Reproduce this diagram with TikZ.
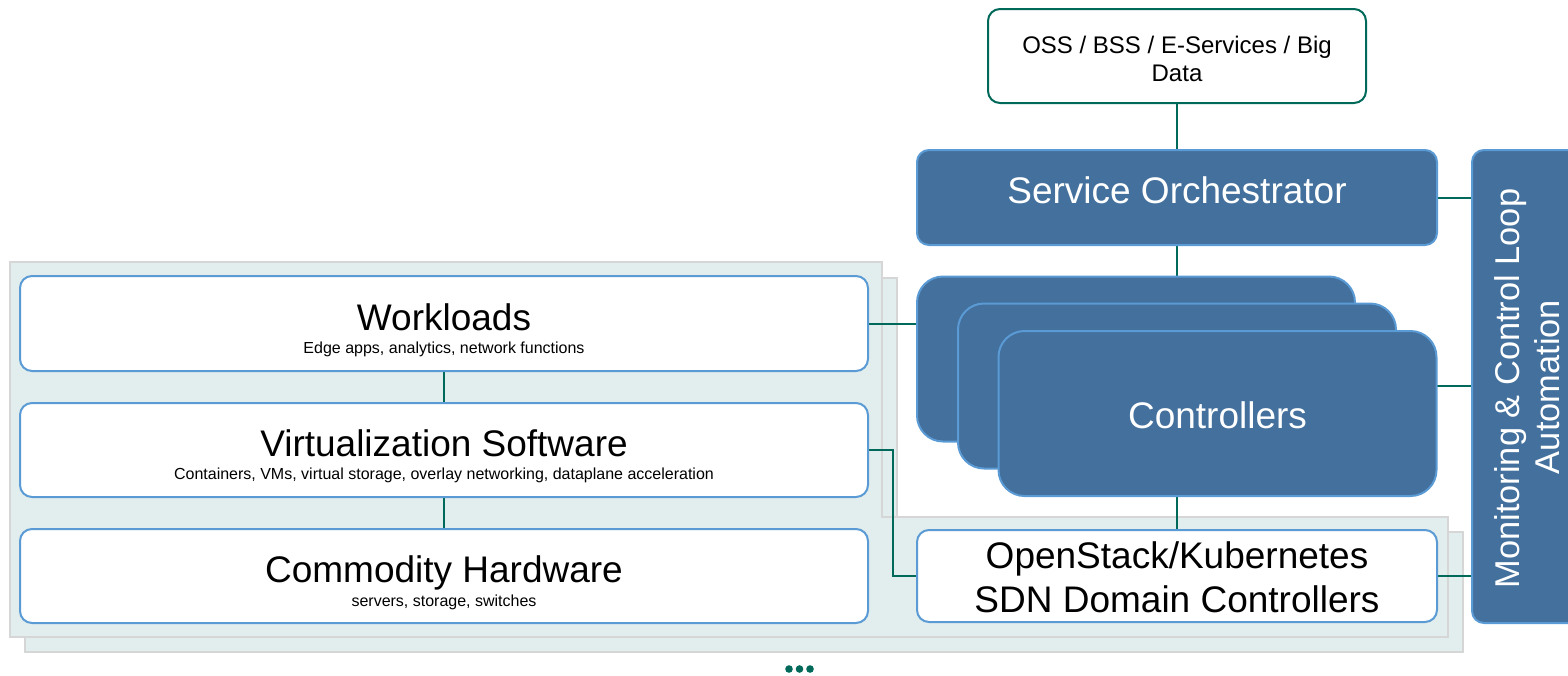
\documentclass[tikz,border=0pt]{standalone}
\usepackage{fontspec}
\setmainfont{Liberation Sans}
\pgfdeclarelayer{panels}
\pgfdeclarelayer{links}
\pgfsetlayers{panels,links,main}

\definecolor{panelfill}{HTML}{E2EEED}
\definecolor{panelline}{HTML}{D6D6D6}
\definecolor{boxline}{HTML}{5B9BD5}
\definecolor{steel}{HTML}{43709D}
\definecolor{linkgreen}{HTML}{00695A}

\begin{document}
\begin{tikzpicture}[x=0.5pt,y=-0.5pt,
  layerbox/.style={draw=boxline, fill=white, line width=1pt, rounded corners=6pt, inner sep=0pt},
  darkbox/.style={draw=boxline, fill=steel, line width=1pt, rounded corners=6pt, inner sep=0pt},
  ctlbox/.style={darkbox, rounded corners=13pt, minimum width=219pt, minimum height=82.5pt},
  link/.style={draw=linkgreen, line width=1pt},
  panel/.style={fill=panelfill, draw=panelline, line width=1pt},
  title/.style={font=\fontsize{18.5}{22}\selectfont, anchor=base, inner sep=0pt},
  sub/.style={font=\fontsize{8}{10}\selectfont, anchor=base, inner sep=0pt},
  small/.style={font=\fontsize{12}{14}\selectfont, anchor=base, inner sep=0pt},
  vlabel/.style={font=\fontsize{17.2}{21}\selectfont, text=white, rotate=90, anchor=base, inner sep=0pt},
]
\useasboundingbox (0,0) rectangle (1568,675);

% background shelves
\begin{pgfonlayer}{panels}
  \draw[panel] (25,278) -- (897,278) -- (897,532) -- (1463,532) -- (1463,652) -- (25,652) -- cycle;
  \draw[panel] (10,262) -- (882,262) -- (882,517) -- (1448,517) -- (1448,637) -- (10,637) -- cycle;
\end{pgfonlayer}

% infrastructure stack
\node[layerbox, minimum width=424pt, minimum height=47.5pt] (wl) at (444,323.5) {};
\node[title] (wlT) at (444,330) {Workloads};
\node[sub] (wlS) at (444,353) {Edge apps, analytics, network functions};

\node[layerbox, minimum width=424pt, minimum height=47pt] (vs) at (444,450) {};
\node[title] (vsT) at (444,456) {Virtualization Software};
\node[sub] (vsS) at (444,479) {Containers, VMs, virtual storage, overlay networking, dataplane acceleration};

\node[layerbox, minimum width=424pt, minimum height=47pt] (ch) at (444,576) {};
\node[title] (chT) at (444,582) {Commodity Hardware};
\node[sub] (chS) at (444,606) {servers, storage, switches};

% domain controllers
\node[layerbox, minimum width=260pt, minimum height=46pt] (os) at (1177,576) {};
\node[title] (osA) at (1177,568) {OpenStack/Kubernetes};
\node[title] (osB) at (1177,612) {SDN Domain Controllers};

% business systems
\node[layerbox, draw=linkgreen, minimum width=189pt, minimum height=47pt] (oss) at (1177,56) {};
\node[small] (ossA) at (1177,53) {OSS / BSS / E-Services / Big};
\node[small] (ossB) at (1177,81) {Data};

% orchestrator
\node[darkbox, minimum width=260pt, minimum height=47.5pt] (so) at (1177,197.5) {};
\node[title, text=white] (soT) at (1177,203) {Service Orchestrator};

% controller stack
\node[ctlbox] (ctlA) at (1136,359) {};
\node[ctlbox] (ctlB) at (1177,386) {};
\node[ctlbox] (ctlC) at (1217.5,413.5) {};
\node[title, text=white] (ctlT) at (1217.5,428) {Controllers};

% monitoring column, running past the right edge
\begin{scope}
  \clip (0,0) rectangle (1568,675);
  \node[darkbox, minimum width=62pt, minimum height=236.5pt] (mon) at (1534,386.5) {};
\end{scope}
\node[vlabel] (monA) at (1519,388.5) {Monitoring \& Control Loop};
\node[vlabel] (monB) at (1559,387) {Automation};

% connectors
\begin{pgfonlayer}{links}
  \draw[link] (oss.south) -- (so.north);
  \draw[link] (so.south) -- (so.south |- ctlA.north);
  \draw[link] (wl.east) -- (wl.east -| ctlA.west);
  \draw[link] (wl.south) -- (vs.north);
  \draw[link] (vs.south) -- (ch.north);
  \draw[link] (vs.east) -- ++(24,0) |- (os.west);
  \draw[link] (os.north |- ctlC.south) -- (os.north);
  \draw[link] (so.east) -- (so.east -| mon.west);
  \draw[link] (ctlB.east) -- (ctlB.east -| mon.west);
  \draw[link] (os.east) -- (os.east -| mon.west);
\end{pgfonlayer}

% continuation marks
\fill[linkgreen] (789,669) circle[radius=1.9pt] (799.5,669) circle[radius=1.9pt] (810,669) circle[radius=1.9pt];
\end{tikzpicture}
\end{document}
